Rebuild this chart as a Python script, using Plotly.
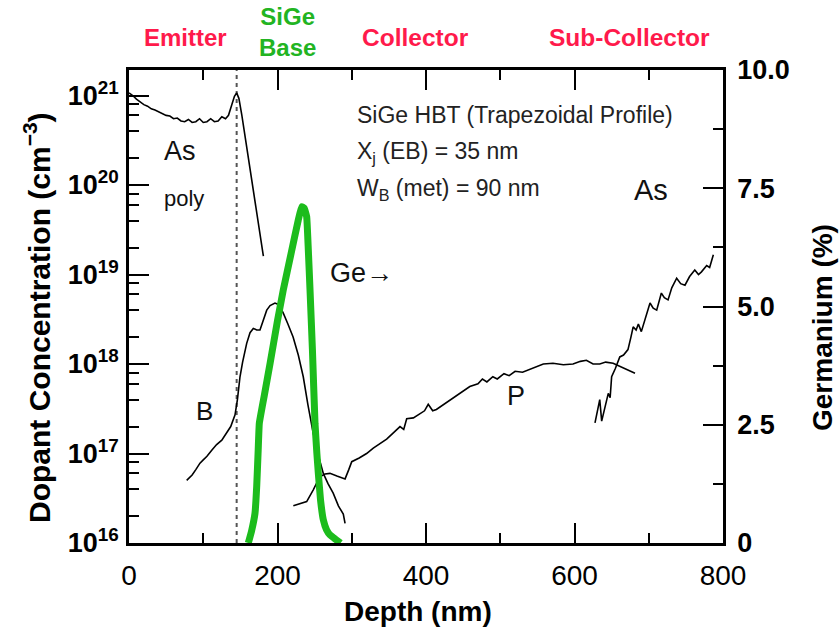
import plotly.graph_objects as go

# ---------------- data ----------------
# Emitter (poly) arsenic profile
as_emit_depth = [0, 5, 10, 15, 20, 25, 30, 35, 40, 45, 50, 55, 60, 65, 70, 75, 80, 85, 90, 95,
                 100, 105, 110, 115, 120, 125, 130, 134, 138, 142, 145, 148, 152, 160, 170, 181]
as_emit_conc = [1.07e21, 1.0e21, 9.1e20, 8.5e20, 7.9e20, 7.6e20, 7.1e20, 6.9e20, 6.6e20, 6.3e20,
                6.0e20, 5.9e20, 5.5e20, 5.6e20, 5.2e20, 5.1e20, 5.4e20, 5.0e20, 5.1e20, 5.5e20,
                5.0e20, 5.1e20, 5.5e20, 5.1e20, 5.2e20, 5.8e20, 5.5e20, 6.0e20, 7.6e20, 9.8e20,
                1.07e21, 9.3e20, 6.0e20, 2.2e20, 6.3e19, 1.6e19]

# Base boron profile
b_depth = [77.7, 85, 90, 95.6, 100, 105, 112, 118, 125, 131.6, 137, 142.8, 146, 149.5, 153, 158.5,
           163, 167.4, 172, 176.4, 181, 185.5, 190, 196.6, 202, 207.8, 214, 221, 228, 234.7, 241,
           248, 255, 261.7, 268, 275, 282, 288.6, 291]
b_conc = [5.0e16, 5.75e16, 6.6e16, 7.8e16, 8.5e16, 9.3e16, 1.1e17, 1.26e17, 1.41e17, 1.7e17, 2.0e17,
          2.7e17, 4.0e17, 7.2e17, 1.05e18, 1.7e18, 2.24e18, 2.5e18, 2.4e18, 2.4e18, 3.2e18, 4.0e18,
          4.5e18, 4.8e18, 4.6e18, 3.7e18, 2.8e18, 2.0e18, 1.26e18, 7.2e17, 3.5e17, 1.7e17, 9.5e16,
          6.0e16, 4.6e16, 3.6e16, 2.6e16, 2.1e16, 1.66e16]

# Collector phosphorus profile
p_depth = [221.3, 230, 239.3, 248, 257, 264, 270.7, 280, 291, 296, 300, 310, 320, 329, 338, 347, 356,
           365, 370, 374, 383, 392, 398, 403, 409, 414, 425, 437, 448, 459, 470, 476, 482, 490, 496,
           505, 512, 520, 530, 545, 558, 571, 585, 598, 608, 616, 625, 634, 642, 652, 665, 681.5]
p_conc = [2.6e16, 2.75e16, 2.9e16, 3.9e16, 5.5e16, 5.9e16, 6.0e16, 5.6e16, 5.2e16, 6.6e16, 8.1e16,
          8.9e16, 1.0e17, 1.15e17, 1.29e17, 1.45e17, 1.7e17, 2.0e17, 1.86e17, 2.45e17, 2.5e17, 2.8e17,
          3.0e17, 3.55e17, 3.0e17, 3.1e17, 3.6e17, 4.2e17, 4.9e17, 5.6e17, 6.0e17, 6.8e17, 6.3e17,
          7.2e17, 6.8e17, 7.8e17, 7.4e17, 8.3e17, 8.1e17, 9.1e17, 1.0e18, 1.02e18, 9.8e17, 1.0e18,
          1.07e18, 1.1e18, 1.0e18, 1.0e18, 1.05e18, 1.02e18, 9.1e17, 7.9e17]

# Sub-collector arsenic profile
as_sub_depth = [627.6, 631, 634, 636.6, 641, 645.5, 648, 650, 655, 661, 666, 672, 676, 679, 683, 686,
                690, 696, 701.7, 706, 710.7, 717, 721, 726, 731, 737.6, 743, 748.8, 755, 762, 767,
                771, 778, 782, 787]
as_sub_conc = [2.2e17, 3.2e17, 4.0e17, 2.3e17, 3.3e17, 4.7e17, 4.2e17, 7.2e17, 8.9e17, 1.2e18, 1.26e18,
               1.45e18, 2.0e18, 2.6e18, 2.4e18, 2.8e18, 2.3e18, 3.3e18, 4.8e18, 4.2e18, 4.0e18, 6.2e18,
               5.5e18, 5.2e18, 7.1e18, 9.1e18, 7.9e18, 7.6e18, 9.5e18, 1.12e19, 1.0e19, 1.07e19,
               1.26e19, 1.2e19, 1.66e19]

# Germanium profile (right axis, %)
ge_depth = [160.7, 165, 169.7, 172, 174, 175.5, 182, 190, 200, 207.8, 218, 228, 232.6, 236, 239.3,
            241.5, 243.8, 247, 250.5, 253, 255, 258, 261.7, 266, 270.7, 278, 285]
ge_pct = [0.0, 0.25, 0.63, 1.2, 1.97, 2.53, 3.1, 3.8, 4.7, 5.35, 6.1, 6.83, 7.11, 7.08, 6.9, 6.2, 5.35,
          4.1, 2.53, 1.9, 1.47, 0.9, 0.49, 0.28, 0.17, 0.08, 0.0]

eb_junction_depth = 145  # dotted line (nm)

x_ticks = [0, 200, 400, 600, 800]
y_ticks = [1e16, 1e17, 1e18, 1e19, 1e20, 1e21]
y_ticktext = ["<b>10<sup>16</sup></b>", "<b>10<sup>17</sup></b>", "<b>10<sup>18</sup></b>",
              "<b>10<sup>19</sup></b>", "<b>10<sup>20</sup></b>", "<b>10<sup>21</sup></b>"]
y_minor_mantissas = [2.0, 4.0, 6.0, 8.0]
y2_ticks = [0, 2.5, 5.0, 7.5, 10.0]
y2_ticktext = ["<b>0</b>", "<b>2.5</b>", "<b>5.0</b>", "<b>7.5</b>", "<b>10.0</b>"]

# ---------------- figure ----------------
W, H = 839, 638
L, R, T, B = 129, 723, 70, 543
SANS = "Liberation Sans, Arial, Helvetica, sans-serif"
RED = "#ff1a4b"
GREEN_T = "#22b422"
GREEN_L = "#1cbc1c"


def px(x, y):
    return (x - L) / (R - L), (B - y) / (B - T)


fig = go.Figure()
line_k = dict(color="black", width=1.6)
fig.add_trace(go.Scatter(x=as_emit_depth, y=as_emit_conc, mode="lines", line=line_k, yaxis="y"))
fig.add_trace(go.Scatter(x=b_depth, y=b_conc, mode="lines", line=line_k, yaxis="y"))
fig.add_trace(go.Scatter(x=p_depth, y=p_conc, mode="lines", line=line_k, yaxis="y"))
fig.add_trace(go.Scatter(x=as_sub_depth, y=as_sub_conc, mode="lines", line=line_k, yaxis="y"))
fig.add_trace(go.Scatter(x=ge_depth, y=ge_pct, mode="lines",
                         line=dict(color=GREEN_L, width=7, shape="spline", smoothing=0.3),
                         yaxis="y2"))

fig.add_shape(type="line", xref="x", yref="paper", x0=eb_junction_depth, x1=eb_junction_depth,
              y0=0, y1=1, line=dict(color="#555555", width=2, dash="4px,4px"), layer="below")

ann = []


def add_text(text, x, y, size, color="black", anchor="center", angle=0):
    xp, yp = px(x, y)
    ann.append(dict(text=text, x=xp, y=yp, xref="paper", yref="paper", showarrow=False,
                    xanchor=anchor, yanchor="middle", textangle=angle,
                    font=dict(size=size, color=color, family=SANS)))


# region labels
add_text("<b>Emitter</b>", 185, 37, 24, RED)
add_text("<b>SiGe<br>Base</b>", 287, 32, 24, GREEN_T)
add_text("<b>Collector</b>", 415, 37, 24.5, RED)
add_text("<b>Sub-Collector</b>", 629, 37, 24.5, RED)

# info text
add_text("SiGe HBT (Trapezoidal Profile)", 355, 115, 23, "#222222", "left")
add_text("X<sub>j</sub> (EB) = 35 nm", 355, 152, 23, "#222222", "left")
add_text("W<sub>B</sub> (met) = 90 nm", 355, 189, 23, "#222222", "left")

# curve labels
add_text("As", 180, 151, 27, "#111111")
add_text("poly", 184, 198, 22, "#111111")
add_text("B", 204, 411, 26, "#111111")
add_text("Ge\u2192", 361, 273, 27, "#111111")
add_text("P", 516, 396, 27, "#111111")
add_text("As", 651, 190, 29, "#111111")

# axis titles
add_text("<b>Dopant Concentration (cm<sup>\u22123</sup>)</b>", 37, 318, 30, "black", angle=-90)
add_text("<b>Germanium (%)</b>", 823, 327, 28, "black", angle=-90)
add_text("<b>Depth (nm)</b>", 418, 611, 28, "black")

axis_common = dict(showline=True, linecolor="black", linewidth=2.5, ticks="inside", ticklen=20,
                   tickwidth=2, tickcolor="black", showgrid=False, zeroline=False)

minor_y = [m * 10.0 ** e for e in range(16, 21) for m in y_minor_mantissas] + [2e21]

fig.update_layout(
    width=W, height=H,
    margin=dict(l=L, r=W - R, t=T, b=H - B, pad=0),
    paper_bgcolor="white", plot_bgcolor="white",
    showlegend=False,
    annotations=ann,
    xaxis=dict(range=[0, 800], tickmode="array", tickvals=x_ticks, mirror="ticks",
               tickfont=dict(size=28, family=SANS, color="black"), ticklabelstandoff=6,
               minor=dict(tickmode="linear", tick0=0, dtick=100, ticks="inside", ticklen=10,
                          tickwidth=2, tickcolor="black", showgrid=False),
               **axis_common),
    yaxis=dict(type="log", range=[16, 21.285], tickmode="array", tickvals=y_ticks,
               ticktext=y_ticktext, tickfont=dict(size=27, family=SANS, color="black"),
               ticklabelstandoff=2,
               minor=dict(tickmode="array", tickvals=minor_y, ticks="inside", ticklen=10,
                          tickwidth=2, tickcolor="black", showgrid=False),
               **axis_common),
    yaxis2=dict(overlaying="y", side="right", range=[0, 10], tickmode="array", tickvals=y2_ticks,
                ticktext=y2_ticktext, tickfont=dict(size=27, family=SANS, color="black"),
                ticklabelstandoff=6,
                minor=dict(tickmode="linear", tick0=0, dtick=1.25, ticks="inside", ticklen=10,
                           tickwidth=2, tickcolor="black", showgrid=False),
                **axis_common),
)

fig.write_html("out.html")
